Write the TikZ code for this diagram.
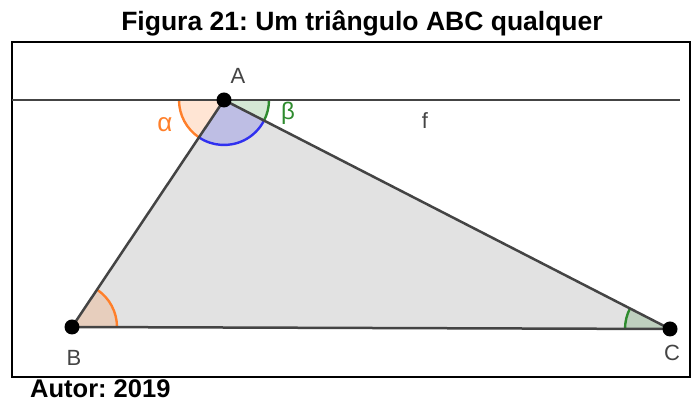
\documentclass[tikz,border=0pt]{standalone}
\usepackage{fontspec}
\setmainfont{Liberation Sans}
\frenchspacing
\usetikzlibrary{angles}
\definecolor{edge}{HTML}{444444}
\definecolor{tri}{HTML}{E2E2E2}
\definecolor{orng}{HTML}{FF7F2A}
\definecolor{blu}{HTML}{3030F0}
\definecolor{grn}{HTML}{2E8B2E}
\tikzset{
  side/.style={draw=edge, line width=2.5pt},
  vertex/.style={circle, fill=black, inner sep=0pt, minimum size=15pt},
  lbl/.style={text=edge, font=\fontsize{22}{22}\selectfont, inner sep=0pt},
  ang/.style={line width=2.4pt, angle radius=45pt, fill opacity=0.2, draw opacity=1},
  ttl/.style={font=\bfseries\fontsize{26.5}{26.5}\selectfont, inner sep=0pt}
}
\begin{document}
\begin{tikzpicture}[x=1pt,y=1pt]
\useasboundingbox (0,0) rectangle (693,403);
% frame
\draw[line width=1.6pt] (12,26) rectangle (690,361);
% title and author
\node[ttl] (title) at (362,380) {Figura 21: Um triângulo ABC qualquer};
\node[ttl, font=\bfseries\fontsize{25.5}{25.5}\selectfont, anchor=west] (autor) at (30,14) {Autor: 2019};
% points
\coordinate (A) at (224,303);
\coordinate (B) at (72,76);
\coordinate (C) at (670,74);
\coordinate (F1) at (12,303);
\coordinate (F2) at (680,303);
% triangle fill
\fill[tri] (A) -- (B) -- (C) -- cycle;
% angles
\pic[ang, draw=orng, fill=orng] {angle = F1--A--B};
\pic[ang, draw=grn, fill=grn] {angle = C--A--F2};
\pic[ang, draw=blu, fill=blu] {angle = B--A--C};
\pic[ang, draw=orng, fill=orng] {angle = C--B--A};
\pic[ang, draw=grn, fill=grn] {angle = A--C--B};
% line f and sides
\draw[side] (F1) -- (F2);
\draw[side] (A) -- (B) -- (C) -- cycle;
% vertices
\node[vertex] (a) at (A) {};
\node[vertex] (b) at (B) {};
\node[vertex] (c) at (C) {};
% labels
\node[lbl] (la) at (238,327) {A};
\node[lbl] (lb) at (74,45) {B};
\node[lbl] (lc) at (672,50) {C};
\node[lbl] (lf) at (425,282) {f};
\node[lbl, text=orng, font=\fontsize{26}{26}\selectfont] (lal) at (165,278) {α};
\node[lbl, text=grn, font=\fontsize{24}{24}\selectfont] (lbe) at (288,290) {β};
\end{tikzpicture}
\end{document}
